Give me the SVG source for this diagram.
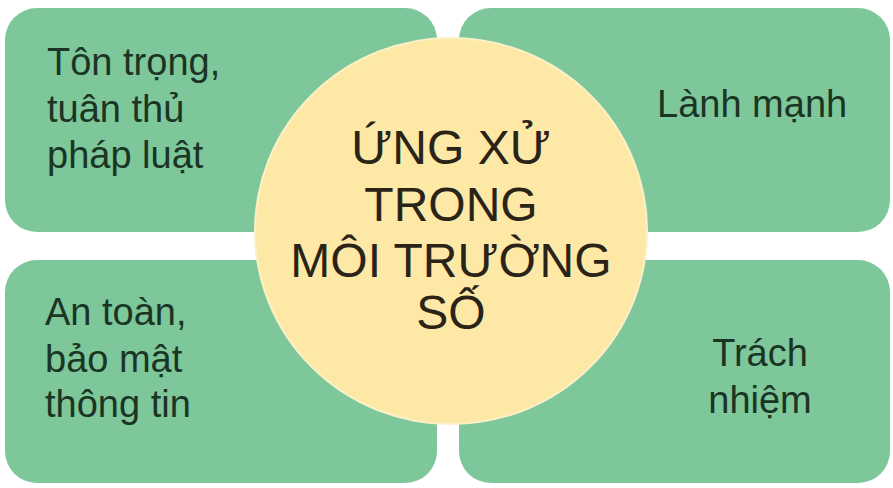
<svg xmlns="http://www.w3.org/2000/svg" width="893" height="488" viewBox="0 0 893 488">
<style>
.box{fill:#7DC79A;}
.bt{font-family:"Liberation Sans",Arial,sans-serif;font-size:38px;fill:#1B3524;}
.ct{font-family:"Liberation Sans",Arial,sans-serif;font-size:48px;fill:#2A2418;text-anchor:middle;}
</style>
<rect width="893" height="488" fill="#FFFFFF"/>
<g id="connectors"></g>
<g id="node-tl">
<rect class="box" x="5" y="8" width="432" height="224" rx="32"/>
<text class="bt" x="47" y="75">Tôn trọng,</text>
<text class="bt" x="47" y="122">tuân thủ</text>
<text class="bt" x="47" y="168">pháp luật</text>
</g>
<g id="node-tr">
<rect class="box" x="459" y="8" width="431" height="224" rx="32"/>
<text class="bt" x="657" y="117">Lành mạnh</text>
</g>
<g id="node-bl">
<rect class="box" x="5" y="260" width="432" height="223" rx="32"/>
<text class="bt" x="45" y="325">An toàn,</text>
<text class="bt" x="45" y="372">bảo mật</text>
<text class="bt" x="45" y="417">thông tin</text>
</g>
<g id="node-br">
<rect class="box" x="459" y="260" width="431" height="223" rx="32"/>
<text class="bt" x="760" y="366" text-anchor="middle">Trách</text>
<text class="bt" x="760" y="413" text-anchor="middle">nhiệm</text>
</g>
<g id="node-center">
<ellipse cx="451" cy="231" rx="196" ry="193" fill="#FDE8A6" stroke="#FBF0C6" stroke-width="2"/>
<text class="ct" x="451" y="164">ỨNG XỬ</text>
<text class="ct" x="451" y="221">TRONG</text>
<text class="ct" x="451" y="277">MÔI TRƯỜNG</text>
<text class="ct" x="451" y="329">SỐ</text>
</g>
</svg>
